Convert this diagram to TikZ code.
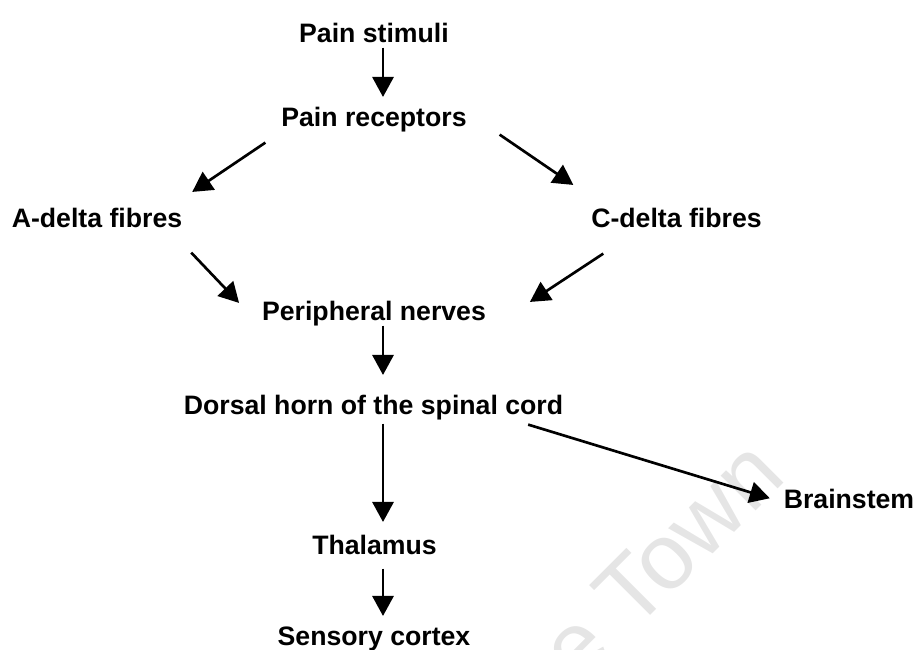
\documentclass[tikz,border=0pt]{standalone}
\usepackage{fontspec}
\setmainfont{Liberation Sans}
\usetikzlibrary{arrows.meta}
\begin{document}
\begin{tikzpicture}[x=0.75pt,y=-0.75pt,
  lbl/.style={font=\fontsize{20}{24}\selectfont\bfseries, inner sep=0pt, outer sep=0pt,
    text height=14.3pt, text depth=4.2pt, anchor=base},
  arr/.style={-{Triangle[length=15pt,width=16pt]}, line width=1.5pt},
  darr/.style={arr, line width=2pt}]
\useasboundingbox (0,0) rectangle (915,650);
\node[text=black!10, rotate=45, font=\fontsize{70}{70}\selectfont] (wm) at (661,561) {e Town};
\node[lbl] (stim) at (374,42) {Pain stimuli};
\node[lbl] (rec) at (374,126) {Pain receptors};
\node[lbl] (adelta) at (97,227) {A-delta fibres};
\node[lbl] (cdelta) at (676.5,227) {C-delta fibres};
\node[lbl] (periph) at (374,320) {Peripheral nerves};
\node[lbl] (dorsal) at (373.5,414) {Dorsal horn of the spinal cord};
\node[lbl] (brain) at (849,508) {Brainstem};
\node[lbl] (thal) at (374.5,554) {Thalamus};
\node[lbl] (sens) at (374,645) {Sensory cortex};
\draw[arr] ([shift={(9,0)}]stim.south)--([shift={(9,-10)}]rec.north);
\draw[darr] ([shift={(-16,11)}]rec.south west)--([shift={(10,-16)}]adelta.north east);
\draw[darr] ([shift={(33,3)}]rec.south east)--([shift={(-18,-23)}]cdelta.north west);
\draw[darr] ([shift={(9,20)}]adelta.south east)--([shift={(-23,2)}]periph.north west);
\draw[darr] ([shift={(12,21)}]cdelta.south west)--([shift={(44,1)}]periph.north east);
\draw[arr] ([shift={(9,0)}]periph.south)--([shift={(9.5,-20)}]dorsal.north);
\draw[arr] ([shift={(9.5,4)}]dorsal.south)--([shift={(8.5,-13)}]thal.north);
\draw[arr] ([shift={(8.5,9)}]thal.south)--([shift={(9,-10)}]sens.north);
\draw[darr] ([shift={(-35,5)}]dorsal.south east)--([shift={(-14,-3)}]brain.west);
\end{tikzpicture}
\end{document}
